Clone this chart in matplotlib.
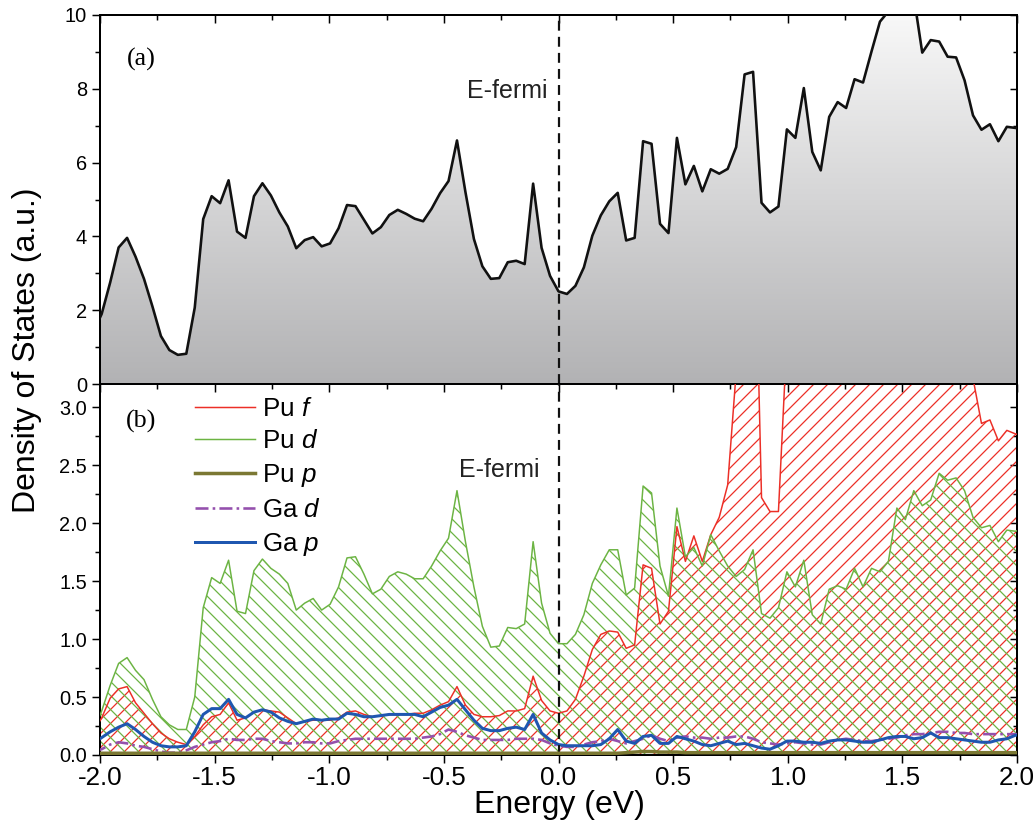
import numpy as np
import matplotlib
matplotlib.use("Agg")
import matplotlib.pyplot as plt
from matplotlib import font_manager
from matplotlib.collections import LineCollection
from matplotlib.colors import LinearSegmentedColormap
from matplotlib.ticker import MultipleLocator, FormatStrFormatter
from matplotlib.transforms import IdentityTransform

DPI = 70
PT = 72 / DPI  # pixels -> points

# energy grid (eV); one point every 0.0369 eV, same grid for every curve
energy = np.arange(-55, 56) * 0.0369

# (a) total DOS
total_dos = [
    1.40, 1.90, 2.75, 3.70, 3.96, 3.45, 2.85, 2.10, 1.30, 0.92,
    0.79, 0.82, 2.07, 4.47, 5.09, 4.90, 5.52, 4.13, 3.96, 5.09,
    5.44, 5.11, 4.65, 4.27, 3.68, 3.90, 3.98, 3.73, 3.81, 4.22,
    4.85, 4.82, 4.45, 4.08, 4.25, 4.58, 4.72, 4.61, 4.48, 4.41,
    4.75, 5.17, 5.50, 6.60, 5.20, 3.93, 3.19, 2.85, 2.87, 3.30,
    3.34, 3.25, 5.43, 3.69, 2.93, 2.51, 2.44, 2.66, 3.16, 4.02,
    4.57, 4.95, 5.18, 3.89, 3.96, 6.58, 6.51, 4.34, 4.09, 6.67,
    5.41, 5.91, 5.22, 5.82, 5.70, 5.83, 6.42, 8.39, 8.46, 4.91,
    4.65, 4.81, 6.90, 6.67, 8.02, 6.29, 5.79, 7.24, 7.64, 7.48,
    8.26, 8.17, 9.01, 9.82, 10.10, 10.60, 10.80, 10.50, 8.98, 9.32,
    9.28, 8.87, 8.85, 8.23, 7.28, 6.89, 7.04, 6.58, 6.97, 6.94,
    6.90,
]

# (b) partial DOS
pu_f = [
    0.20, 0.32, 0.49, 0.57, 0.59, 0.45, 0.36, 0.27, 0.19, 0.14,
    0.11, 0.09, 0.16, 0.26, 0.33, 0.35, 0.45, 0.30, 0.32, 0.37,
    0.39, 0.38, 0.37, 0.32, 0.27, 0.29, 0.30, 0.30, 0.30, 0.32,
    0.37, 0.38, 0.35, 0.33, 0.34, 0.35, 0.35, 0.35, 0.36, 0.36,
    0.39, 0.43, 0.46, 0.59, 0.43, 0.35, 0.33, 0.33, 0.34, 0.38,
    0.38, 0.40, 0.68, 0.47, 0.38, 0.36, 0.38, 0.48, 0.68, 0.91,
    1.04, 1.07, 1.06, 0.92, 0.95, 1.64, 1.61, 1.13, 1.24, 1.97,
    1.67, 1.89, 1.67, 1.90, 2.05, 2.33, 3.30, 4.50, 5.30, 2.22,
    2.10, 2.10, 3.60, 4.20, 4.80, 4.10, 3.70, 4.40, 4.60, 4.50,
    4.90, 4.80, 5.20, 5.60, 5.70, 6.00, 6.10, 5.90, 5.20, 5.40,
    5.30, 5.00, 4.90, 4.10, 3.25, 2.86, 2.89, 2.71, 2.80, 2.77,
    2.75,
]
pu_d = [
    0.20, 0.38, 0.60, 0.79, 0.84, 0.73, 0.65, 0.48, 0.33, 0.26,
    0.22, 0.22, 0.50, 1.27, 1.53, 1.48, 1.68, 1.24, 1.22, 1.59,
    1.69, 1.61, 1.56, 1.48, 1.25, 1.31, 1.35, 1.25, 1.30, 1.45,
    1.70, 1.71, 1.56, 1.39, 1.43, 1.54, 1.58, 1.56, 1.52, 1.52,
    1.63, 1.76, 1.87, 2.28, 1.84, 1.45, 1.11, 0.93, 0.94, 1.10,
    1.09, 1.13, 1.84, 1.31, 1.05, 0.96, 0.96, 1.04, 1.21, 1.48,
    1.64, 1.77, 1.77, 1.38, 1.44, 2.32, 2.26, 1.63, 1.37, 2.13,
    1.71, 1.79, 1.63, 1.90, 1.76, 1.63, 1.54, 1.60, 1.77, 1.22,
    1.18, 1.27, 1.58, 1.45, 1.68, 1.21, 1.13, 1.43, 1.46, 1.43,
    1.61, 1.45, 1.61, 1.58, 1.67, 2.13, 2.03, 2.28, 2.15, 2.20,
    2.43, 2.37, 2.39, 2.28, 2.05, 1.96, 1.98, 1.84, 1.94, 1.93,
    1.95,
]
pu_p = [
    0.015, 0.015, 0.015, 0.015, 0.015, 0.015, 0.015, 0.015, 0.015, 0.015,
    0.015, 0.015, 0.015, 0.015, 0.015, 0.015, 0.015, 0.015, 0.015, 0.015,
    0.015, 0.015, 0.015, 0.015, 0.015, 0.015, 0.015, 0.015, 0.015, 0.015,
    0.015, 0.015, 0.015, 0.015, 0.015, 0.015, 0.015, 0.015, 0.015, 0.015,
    0.015, 0.015, 0.015, 0.015, 0.015, 0.015, 0.015, 0.015, 0.015, 0.015,
    0.015, 0.015, 0.015, 0.015, 0.015, 0.015, 0.015, 0.015, 0.015, 0.015,
    0.015, 0.015, 0.015, 0.020, 0.025, 0.030, 0.030, 0.025, 0.025, 0.025,
    0.020, 0.020, 0.020, 0.020, 0.020, 0.020, 0.020, 0.020, 0.020, 0.020,
    0.020, 0.020, 0.020, 0.020, 0.020, 0.020, 0.020, 0.020, 0.020, 0.020,
    0.020, 0.020, 0.020, 0.020, 0.020, 0.020, 0.020, 0.020, 0.020, 0.020,
    0.020, 0.020, 0.020, 0.020, 0.020, 0.020, 0.020, 0.020, 0.020, 0.020,
    0.020,
]
ga_d = [
    0.03, 0.05, 0.09, 0.11, 0.10, 0.08, 0.07, 0.05, 0.03, 0.02,
    0.02, 0.04, 0.07, 0.09, 0.11, 0.12, 0.14, 0.13, 0.13, 0.14,
    0.14, 0.12, 0.11, 0.10, 0.10, 0.11, 0.11, 0.10, 0.10, 0.12,
    0.13, 0.14, 0.14, 0.14, 0.14, 0.14, 0.14, 0.14, 0.14, 0.15,
    0.16, 0.18, 0.22, 0.20, 0.17, 0.15, 0.13, 0.13, 0.13, 0.13,
    0.14, 0.14, 0.14, 0.13, 0.10, 0.08, 0.07, 0.07, 0.09, 0.11,
    0.12, 0.14, 0.12, 0.10, 0.12, 0.14, 0.17, 0.14, 0.12, 0.15,
    0.16, 0.15, 0.15, 0.14, 0.15, 0.15, 0.16, 0.16, 0.14, 0.11,
    0.10, 0.09, 0.10, 0.11, 0.10, 0.09, 0.09, 0.11, 0.13, 0.14,
    0.13, 0.12, 0.12, 0.13, 0.14, 0.15, 0.17, 0.18, 0.18, 0.19,
    0.20, 0.20, 0.19, 0.19, 0.18, 0.18, 0.18, 0.18, 0.18, 0.18,
    0.18,
]
ga_p = [
    0.10, 0.15, 0.20, 0.24, 0.27, 0.22, 0.16, 0.11, 0.08, 0.07,
    0.07, 0.08, 0.20, 0.35, 0.40, 0.40, 0.48, 0.35, 0.32, 0.37,
    0.39, 0.37, 0.32, 0.29, 0.27, 0.29, 0.31, 0.30, 0.31, 0.31,
    0.36, 0.35, 0.33, 0.33, 0.34, 0.35, 0.35, 0.35, 0.35, 0.33,
    0.37, 0.41, 0.43, 0.48, 0.39, 0.30, 0.23, 0.21, 0.21, 0.23,
    0.24, 0.22, 0.35, 0.19, 0.13, 0.09, 0.08, 0.08, 0.08, 0.08,
    0.09, 0.14, 0.22, 0.12, 0.10, 0.16, 0.17, 0.10, 0.10, 0.16,
    0.14, 0.12, 0.09, 0.08, 0.10, 0.12, 0.09, 0.10, 0.08, 0.06,
    0.05, 0.08, 0.12, 0.12, 0.11, 0.11, 0.10, 0.12, 0.13, 0.13,
    0.12, 0.11, 0.11, 0.13, 0.15, 0.16, 0.16, 0.14, 0.15, 0.19,
    0.15, 0.15, 0.14, 0.13, 0.12, 0.11, 0.11, 0.13, 0.14, 0.17,
    0.18,
]

x_ticks = [-2.0, -1.5, -1.0, -0.5, 0.0, 0.5, 1.0, 1.5, 2.0]

RED = "#ec2f27"
GREEN = "#6cb443"
OLIVE = "#7b7833"
PURPLE = "#9450ad"
BLUE = "#1f57b0"

names = {f.name for f in font_manager.fontManager.ttflist}
NARROW = "Liberation Sans Narrow" if "Liberation Sans Narrow" in names else "Liberation Sans"

plt.rcParams["font.family"] = ["Liberation Sans", "DejaVu Sans"]
plt.rcParams["mathtext.fontset"] = "custom"
plt.rcParams["mathtext.rm"] = "Liberation Sans"
plt.rcParams["mathtext.it"] = "Liberation Sans:italic"

fig = plt.figure(figsize=(1035 / DPI, 834 / DPI), dpi=DPI)
ax1 = fig.add_axes([100 / 1035, 1 - 384 / 834, 917 / 1035, 369 / 834])
ax2 = fig.add_axes([100 / 1035, 1 - 755 / 834, 917 / 1035, 371 / 834])


def style_axes(ax, ymajor, yminor, bottom_ticks):
    for sp in ax.spines.values():
        sp.set_linewidth(2 * PT)
    ax.xaxis.set_major_locator(MultipleLocator(0.5))
    ax.xaxis.set_minor_locator(MultipleLocator(0.25))
    ax.yaxis.set_major_locator(MultipleLocator(ymajor))
    ax.yaxis.set_minor_locator(MultipleLocator(yminor))
    ax.tick_params(which="both", direction="out", width=1.5 * PT,
                   top=False, right=False, bottom=bottom_ticks)
    ax.tick_params(which="major", length=8 * PT)
    ax.tick_params(which="minor", length=5 * PT)
    ax.tick_params(axis="y", labelsize=20 * PT, pad=5 * PT)
    # inward ticks on the right side
    sec = ax.secondary_yaxis("right")
    sec.yaxis.set_major_locator(MultipleLocator(ymajor))
    sec.yaxis.set_minor_locator(MultipleLocator(yminor))
    sec.tick_params(which="both", direction="in", width=1.5 * PT, labelright=False)
    sec.tick_params(which="major", length=7 * PT)
    sec.tick_params(which="minor", length=4 * PT)
    sec.spines["right"].set_linewidth(2 * PT)
    # inward ticks on the top side
    sect = ax.secondary_xaxis("top")
    sect.xaxis.set_major_locator(MultipleLocator(0.5))
    sect.xaxis.set_minor_locator(MultipleLocator(0.25))
    sect.tick_params(which="both", direction="in", width=1.5 * PT, labeltop=False)
    sect.tick_params(which="major", length=8 * PT)
    sect.tick_params(which="minor", length=5 * PT)
    sect.spines["top"].set_linewidth(2 * PT)


def hatch(ax, poly, color, forward, spacing=14.0):
    # 45 degree hatch lines in pixel space, clipped to the filled area
    bb = ax.get_window_extent()
    h = bb.height
    offs = np.arange(bb.x0 - h, bb.x1 + spacing, spacing)
    if forward:
        segs = [[(c, bb.y0), (c + h, bb.y1)] for c in offs]
    else:
        segs = [[(c, bb.y1), (c + h, bb.y0)] for c in offs]
    lc = LineCollection(segs, colors=color, linewidths=1.25 * PT,
                        transform=IdentityTransform(), zorder=2)
    ax.add_collection(lc, autolim=False)
    lc.set_clip_path(poly.get_paths()[0], transform=ax.transData)


# ---- (a) total DOS with vertical grey gradient under the curve
grad = LinearSegmentedColormap.from_list("grey", ["#b2b2b4", "#f8f8f8"])
poly = ax1.fill_between(energy, 0, total_dos, facecolor="none", edgecolor="none")
im = ax1.imshow(np.linspace(0, 1, 256).reshape(-1, 1), extent=(-2.1, 2.1, 0, 10),
                origin="lower", aspect="auto", cmap=grad, zorder=1)
im.set_clip_path(poly.get_paths()[0], transform=ax1.transData)
ax1.plot(energy, total_dos, color="#111111", lw=2.6 * PT, zorder=3)
ax1.axvline(0, color="#111111", lw=2.2 * PT, dashes=(4.5, 2.8), zorder=4)
ax1.set_xlim(-2, 2)
ax1.set_ylim(0, 10)
style_axes(ax1, 2, 1, False)
ax1.tick_params(axis="x", labelbottom=False)
ax1.text(-1.821, 8.79, "(a)", family="Liberation Serif", fontsize=26 * PT,
         ha="center", va="center")
ax1.text(-0.046, 7.95, "E-fermi", fontsize=25 * PT, ha="right", va="center",
         color="#222222")

# ---- (b) partial DOS
ax2.set_xlim(-2, 2)
ax2.set_ylim(0, 3.2)
poly_f = ax2.fill_between(energy, 0, pu_f, facecolor="none", edgecolor="none")
poly_d = ax2.fill_between(energy, 0, pu_d, facecolor="none", edgecolor="none")
hatch(ax2, poly_f, RED, True)
hatch(ax2, poly_d, GREEN, False)
ax2.plot(energy, pu_f, color=RED, lw=1.5 * PT, label=r"Pu $f$", zorder=3)
ax2.plot(energy, pu_d, color=GREEN, lw=1.5 * PT, label=r"Pu $d$", zorder=3)
ax2.plot(energy, pu_p, color=OLIVE, lw=3.5 * PT, label=r"Pu $p$", zorder=7)
ax2.plot(energy, ga_d, color=PURPLE, lw=2.6 * PT, dashes=(5, 1.6, 1, 1.6),
         label=r"Ga $d$", zorder=4)
ax2.plot(energy, ga_p, color=BLUE, lw=3 * PT, label=r"Ga $p$", zorder=5)
ax2.axvline(0, color="#111111", lw=2.2 * PT, dashes=(4.5, 2.8), zorder=6)
ax2.set_xlim(-2, 2)
ax2.set_ylim(0, 3.2)
style_axes(ax2, 0.5, 0.25, True)
ax2.set_xticks(x_ticks)
ax2.xaxis.set_major_formatter(FormatStrFormatter("%.1f"))
ax2.yaxis.set_major_formatter(FormatStrFormatter("%.1f"))
for lab in ax2.get_xticklabels():
    lab.set_family(NARROW)
ax2.tick_params(axis="x", labelsize=26 * PT, pad=3 * PT)
ax2.text(-1.821, 2.878, "(b)", family="Liberation Serif", fontsize=26 * PT,
         ha="center", va="center")
ax2.text(-0.081, 2.46, "E-fermi", fontsize=25 * PT, ha="right", va="center",
         color="#222222")

leg = ax2.legend(loc="upper left", bbox_to_anchor=(0.1036, 0.966), frameon=False,
                 fontsize=26 * PT, handlelength=2.3, handletextpad=0.28,
                 labelspacing=0.34, borderpad=0, borderaxespad=0)

fig.text(559 / 1035, 1 - 805 / 834, "Energy (eV)", family=NARROW, fontsize=32 * PT,
         ha="center", va="center")
fig.text(27 / 1035, 1 - 350 / 834, "Density of States (a.u.)", fontsize=32 * PT,
         rotation=90, ha="center", va="center")

fig.savefig("out.png", dpi=DPI)
